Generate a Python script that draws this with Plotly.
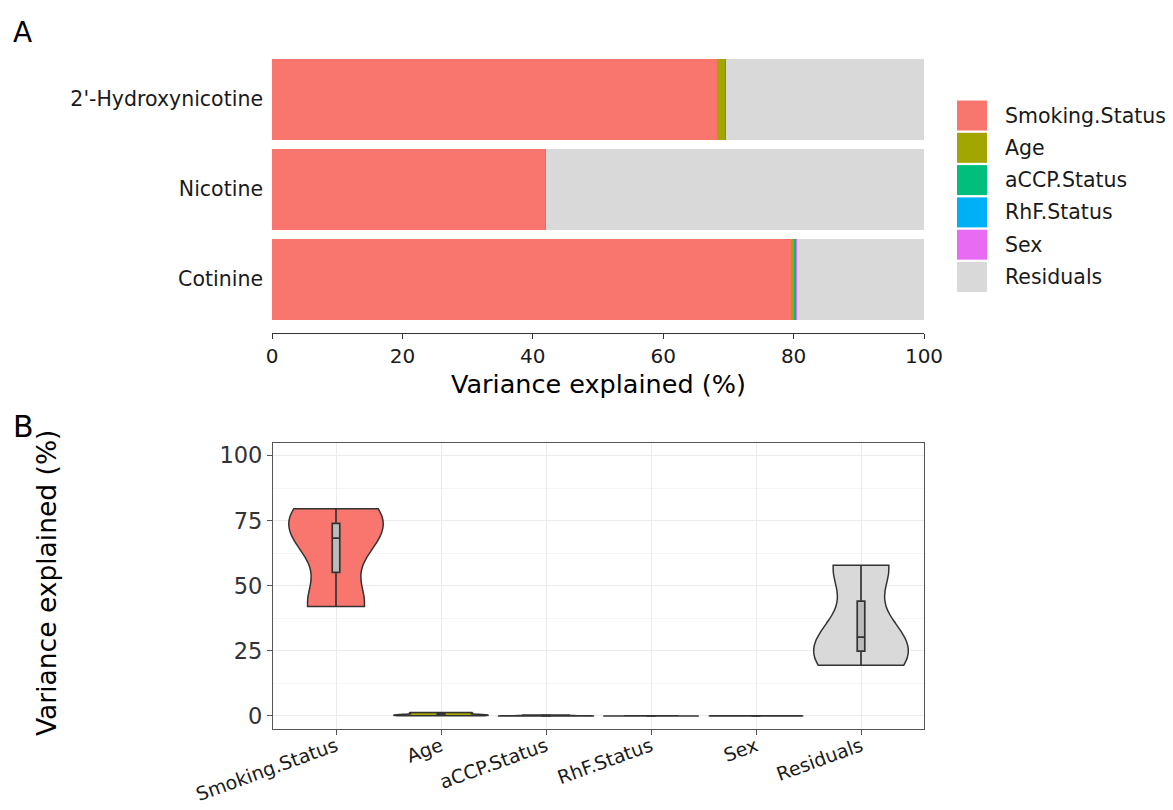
import numpy as np
import plotly.graph_objects as go

# ---------------- data ----------------
metabolites = ["Cotinine", "Nicotine", "2'-Hydroxynicotine"]          # bottom -> top
components = ["Smoking.Status", "Age", "aCCP.Status", "RhF.Status", "Sex", "Residuals"]
colors = ["#F8766D", "#A3A500", "#00BF7D", "#00B0F6", "#E76BF3", "#D9D9D9"]

# variance explained (%) per component, in the order of `metabolites`
smoking_status = [79.55, 42.0, 68.3]
age = [0.5, 0.05, 1.3]
accp_status = [0.4, 0.02, 0.05]
rhf_status = [0.05, 0.01, 0.02]
sex = [0.05, 0.01, 0.03]
residuals = [19.45, 57.9, 30.3]

values = {
    "Smoking.Status": smoking_status,
    "Age": age,
    "aCCP.Status": accp_status,
    "RhF.Status": rhf_status,
    "Sex": sex,
    "Residuals": residuals,
}

x_ticks_a = [0, 20, 40, 60, 80, 100]

FONT = "DejaVu Sans"
W, H = 1173, 810


def px_x(p):
    return p / W


def px_y(p):
    return 1 - p / H


def bw_nrd0(v):
    v = np.asarray(v, float)
    sd = np.std(v, ddof=1)
    q1, q3 = np.percentile(v, [25, 75])
    lo = min(sd, (q3 - q1) / 1.34)
    if lo <= 0:
        lo = sd if sd > 0 else abs(v[0]) or 1.0
    return 0.9 * lo * len(v) ** (-0.2)


fig = go.Figure()

# ---------------- panel A: stacked horizontal bars ----------------
for comp, col in zip(components, colors):
    fig.add_trace(go.Bar(
        y=metabolites, x=values[comp], orientation="h", name=comp,
        marker=dict(color=col, line=dict(width=0)), width=0.9,
        showlegend=False, xaxis="x", yaxis="y",
    ))

# ---------------- panel B: violins ----------------
for comp, col in zip(components, colors):
    v = values[comp]
    fig.add_trace(go.Violin(
        x=[comp] * len(v), y=v, name=comp, showlegend=False,
        xaxis="x2", yaxis="y2",
        spanmode="hard", scalemode="width", width=0.9,
        bandwidth=bw_nrd0(v), points=False, quartilemethod="inclusive",
        fillcolor=col, opacity=1,
        line=dict(color="#333333", width=1.5),
        box=dict(visible=True, width=0.08, fillcolor="#BBBBBB",
                 line=dict(color="#333333", width=1.7)),
        meanline=dict(visible=False),
    ))

fig.update_layout(
    template="none",
    width=W, height=H, autosize=False,
    margin=dict(l=0, r=0, t=0, b=0, pad=0),
    paper_bgcolor="white", plot_bgcolor="white",
    font=dict(family=FONT, color="#1a1a1a"),
    barmode="stack", bargap=0.1, violinmode="overlay",
    xaxis=dict(
        domain=[px_x(272), px_x(924)], anchor="y", range=[0, 100],
        tickmode="array", tickvals=x_ticks_a, automargin=False,
        showline=True, linecolor="#333333", linewidth=1.3,
        ticks="outside", ticklen=5, tickcolor="#333333", tickwidth=1.2,
        showgrid=False, zeroline=False,
        tickfont=dict(size=20, color="#1a1a1a", family=FONT),
    ),
    yaxis=dict(
        domain=[px_y(333), px_y(45)], anchor="x", type="category",
        categoryorder="array", categoryarray=metabolites, automargin=False,
        range=[-0.6, 2.6], showline=False, ticks="", showgrid=False,
        zeroline=False, ticklabelstandoff=8,
        tickfont=dict(size=20.5, color="#1a1a1a", family=FONT),
    ),
    xaxis2=dict(
        domain=[px_x(273), px_x(924)], anchor="y2", type="category",
        categoryorder="array", categoryarray=components, automargin=False,
        range=[-0.6, 5.6],
        showline=True, mirror=True, linecolor="#555555", linewidth=1.2,
        ticks="outside", ticklen=5, tickcolor="#555555", tickwidth=1.1,
        showgrid=True, gridcolor="#EBEBEB", gridwidth=1.2,
        tickangle=-20, zeroline=False, ticklabelstandoff=-7,
        tickfont=dict(size=19, color="#1a1a1a", family=FONT),
    ),
    yaxis2=dict(
        domain=[px_y(729), px_y(442.5)], anchor="x2", range=[-5, 105],
        tickmode="linear", tick0=0, dtick=25, automargin=False,
        showline=True, mirror=True, linecolor="#555555", linewidth=1.2,
        ticks="outside", ticklen=5, tickcolor="#555555", tickwidth=1.1,
        showgrid=True, gridcolor="#EBEBEB", gridwidth=1.2, zeroline=False,
        minor=dict(dtick=12.5, tick0=0, showgrid=True, gridcolor="#F5F5F5",
                   gridwidth=1, ticks=""),
        tickfont=dict(size=22.5, color="#333333", family=FONT),
    ),
)

annotations = [
    dict(text="A", x=px_x(22), y=px_y(32), xref="paper", yref="paper",
         showarrow=False, font=dict(size=28, family=FONT, color="black"),
         xanchor="center", yanchor="middle"),
    dict(text="B", x=px_x(23), y=px_y(426), xref="paper", yref="paper",
         showarrow=False, font=dict(size=30, family=FONT, color="black"),
         xanchor="center", yanchor="middle"),
    dict(text="Variance explained (%)", x=px_x(598), y=px_y(384),
         xref="paper", yref="paper", showarrow=False,
         font=dict(size=25.5, family=FONT, color="black"),
         xanchor="center", yanchor="middle"),
    dict(text="Variance explained (%)", x=px_x(46), y=px_y(583),
         xref="paper", yref="paper", showarrow=False, textangle=-90,
         font=dict(size=26.5, family=FONT, color="black"),
         xanchor="center", yanchor="middle"),
]

# legend for panel A (swatches + labels)
shapes = []
for i, (comp, col) in enumerate(zip(components, colors)):
    cy = 115.5 + i * 32.3
    shapes.append(dict(type="rect", xref="paper", yref="paper",
                       x0=px_x(957), x1=px_x(987),
                       y0=px_y(cy + 15), y1=px_y(cy - 15),
                       fillcolor=col, line=dict(width=0), layer="above"))
    annotations.append(dict(text=comp, x=px_x(1003), y=px_y(cy),
                            xref="paper", yref="paper", showarrow=False,
                            xanchor="left", yanchor="middle",
                            font=dict(size=20.5, family=FONT, color="#1a1a1a")))

fig.update_layout(annotations=annotations, shapes=shapes)

fig.write_html("out.html")
